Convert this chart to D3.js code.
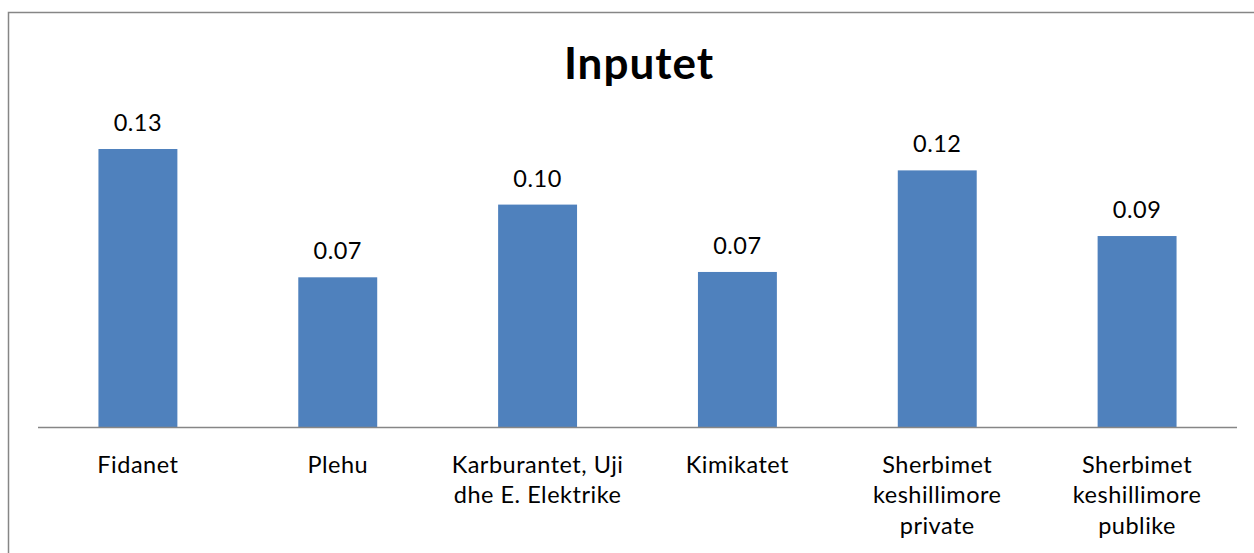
<!DOCTYPE html>
<html>
<head>
<meta charset="utf-8">
<script src="https://cdn.jsdelivr.net/npm/d3@7"></script>
<style>
  body { margin: 0; background: #fff; }
  text { font-family: Lato, "Open Sans", sans-serif; fill: #000; }
</style>
</head>
<body>
<div id="chart"></div>
<script>
// data
var categories = ["Fidanet", "Plehu", "Karburantet, Uji\ndhe E. Elektrike", "Kimikatet",
    "Sherbimet\nkeshillimore\nprivate", "Sherbimet\nkeshillimore\npublike"];
var values = [0.13, 0.070, 0.104, 0.0725, 0.120, 0.0893];
var title = "Inputet";

const width = 1254, height = 553;

var svg = d3.select("#chart")
    .append("svg")
    .attr("width", width)
    .attr("height", height);

// chart frame (runs off the right and bottom edge)
svg.append("rect")
    .attr("x", 8.5)
    .attr("y", 12.5)
    .attr("width", 1400)
    .attr("height", 700)
    .style("fill", "none")
    .style("stroke", "#868686")
    .style("stroke-width", 1.5);

// title
svg.append("text")
    .attr("x", 639)
    .attr("y", 79)
    .attr("text-anchor", "middle")
    .style("font-size", "44px")
    .style("font-weight", "bold")
    .style("letter-spacing", "1px")
    .text(title);

var x = d3.scaleBand()
    .domain(categories)
    .range([38, 1237])
    .paddingInner(0.605)
    .paddingOuter(0.3025);

var y = d3.scaleLinear()
    .domain([0, 0.13])
    .range([427, 149]);

// bars
svg.selectAll(".bar")
    .data(values)
    .enter()
    .append("rect")
    .attr("class", "bar")
    .attr("x", function (d, i) { return x(categories[i]); })
    .attr("y", function (d) { return y(d); })
    .attr("width", x.bandwidth())
    .attr("height", function (d) { return y(0) - y(d); })
    .style("fill", "#4F81BD");

// value labels
svg.selectAll(".val")
    .data(values)
    .enter()
    .append("text")
    .attr("class", "val")
    .attr("x", function (d, i) { return x(categories[i]) + x.bandwidth() / 2; })
    .attr("y", function (d) { return y(d) - 18; })
    .attr("text-anchor", "middle")
    .style("font-size", "23.5px")
    .style("letter-spacing", "0.5px")
    .text(function (d) { return d3.format(".2f")(d); });

// x axis line
svg.append("line")
    .attr("x1", 38)
    .attr("x2", 1237)
    .attr("y1", y(0) + 0.5)
    .attr("y2", y(0) + 0.5)
    .style("stroke", "#868686")
    .style("stroke-width", 1.5);

// category labels, wrapped on \n
var lab = svg.selectAll(".cat")
    .data(categories)
    .enter()
    .append("text")
    .attr("class", "cat")
    .attr("text-anchor", "middle")
    .style("font-size", "23.5px")
    .style("letter-spacing", "0.5px");

lab.selectAll("tspan")
    .data(function (d) { return d.split("\n").map(function (t) { return { t: t, c: d }; }); })
    .enter()
    .append("tspan")
    .attr("x", function (d) { return x(d.c) + x.bandwidth() / 2; })
    .attr("y", function (d, i) { return 472.5 + i * 30.5; })
    .text(function (d) { return d.t; });
</script>
</body>
</html>
